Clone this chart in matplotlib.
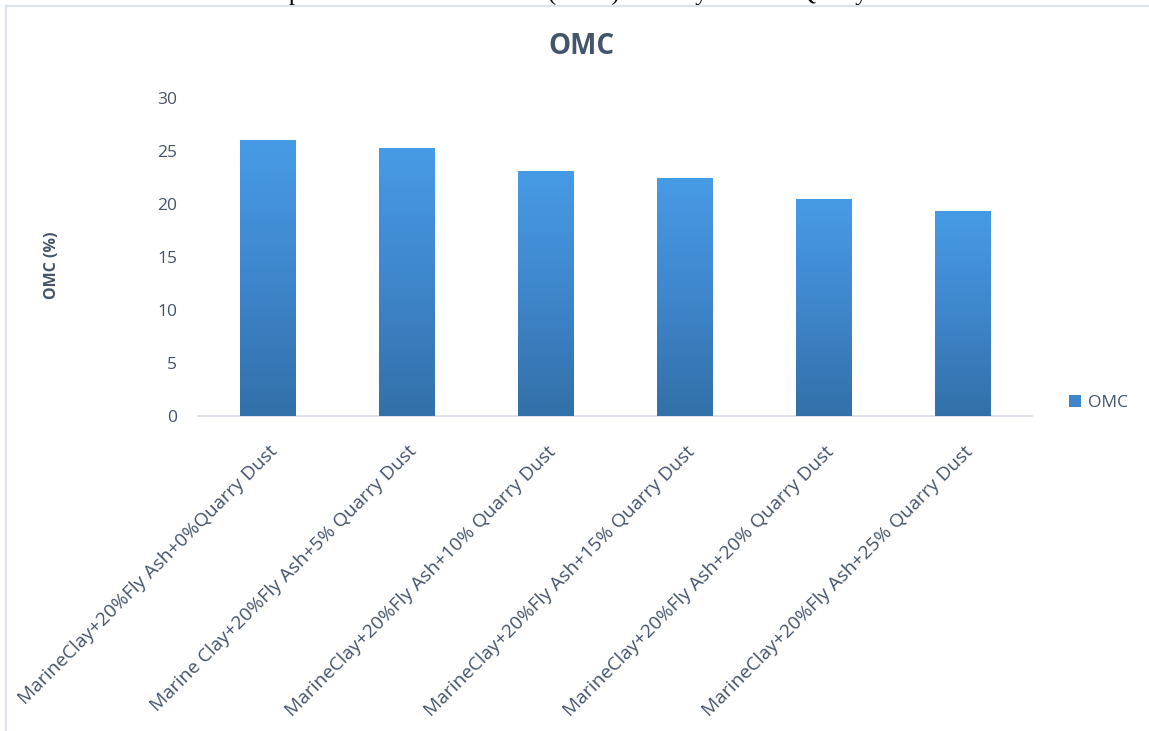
import numpy as np
import matplotlib.pyplot as plt
from matplotlib.patches import Patch
from matplotlib.lines import Line2D
from matplotlib.colors import LinearSegmentedColormap
from matplotlib.transforms import ScaledTranslation

plt.rcParams['font.family'] = ['Open Sans', 'DejaVu Sans']

# data
mixes = ["MarineClay+20%Fly Ash+0%Quarry Dust",
         "Marine Clay+20%Fly Ash+5% Quarry Dust",
         "MarineClay+20%Fly Ash+10% Quarry Dust",
         "MarineClay+20%Fly Ash+15% Quarry Dust",
         "MarineClay+20%Fly Ash+20% Quarry Dust",
         "MarineClay+20%Fly Ash+25% Quarry Dust"]
omc = [26.0, 25.2, 23.1, 22.4, 20.4, 19.3]
yticks = [0, 5, 10, 15, 20, 25, 30]

W, H = 1149, 731
txt = '#44546a'

fig = plt.figure(figsize=(W / 100, H / 100), dpi=100)

# cut-off caption of the document above the chart
fig.text(150 / W, 1 + 0.5 / H,
         "Variation of Optimum Moisture Content (OMC) with Fly Ash and Quarry Dust",
         family='Liberation Serif', fontsize=17.5, color='black', va='baseline', ha='left')

# chart frame (light border)
fig.add_artist(Line2D([6 / W, 6 / W], [0, 1 - 6 / H], color='#dfe3eb', lw=1.6, transform=fig.transFigure))
fig.add_artist(Line2D([6 / W, 1], [1 - 6 / H, 1 - 6 / H], color='#dfe3eb', lw=1.6, transform=fig.transFigure))

ax = fig.add_axes([198 / W, 1 - 416 / H, (1032 - 198) / W, (416 - 98) / H])
x = np.arange(len(mixes))
bars = ax.bar(x, omc, width=0.4, color='#3f86cf', edgecolor='#6fa9e0', linewidth=0.6, zorder=2)

# vertical gradient fill like the original
grad = np.linspace(0, 1, 256).reshape(-1, 1)
cmap = LinearSegmentedColormap.from_list('omc', ['#3270a8', '#3f86cc', '#479be5'])
for b in bars:
    ax.imshow(grad, extent=[b.get_x(), b.get_x() + b.get_width(), 0, b.get_height()],
              origin='lower', aspect='auto', cmap=cmap, clip_path=b, zorder=3)

ax.set_xlim(-0.5, len(mixes) - 0.5)
ax.set_ylim(0, 30)
ax.set_yticks(yticks)
ax.set_xticks(x)
ax.set_xticklabels(mixes, rotation=45, ha='right', va='top', rotation_mode='anchor')
ax.tick_params(axis='y', length=0, pad=15, labelsize=12.5, labelcolor=txt)
ax.tick_params(axis='x', length=0, pad=19, labelsize=13.8, labelcolor=txt)
for lbl in ax.get_xticklabels():
    lbl.set_transform(lbl.get_transform() + ScaledTranslation(1 / 100, 0, fig.dpi_scale_trans))

for s in ['top', 'right', 'left']:
    ax.spines[s].set_visible(False)
ax.spines['bottom'].set_color('#d9dde6')
ax.spines['bottom'].set_linewidth(1.2)

fig.text(581 / W, 1 - 47 / H, 'OMC', ha='center', va='center', fontsize=20,
         fontweight='bold', color=txt)
fig.text(52 / W, 1 - 265 / H, 'OMC (%)', ha='center', va='center', rotation=90,
         fontsize=11.5, fontweight='bold', color=txt)

ax.legend(handles=[Patch(facecolor='#3e85cc', label='OMC')], loc='center left',
          bbox_to_anchor=(1069 / W, 1 - 403 / H), bbox_transform=fig.transFigure,
          frameon=False, handlelength=0.7, handleheight=0.7, handletextpad=0.4,
          borderpad=0, borderaxespad=0, fontsize=12.5, labelcolor=txt)

fig.savefig('out.png', dpi=100)
